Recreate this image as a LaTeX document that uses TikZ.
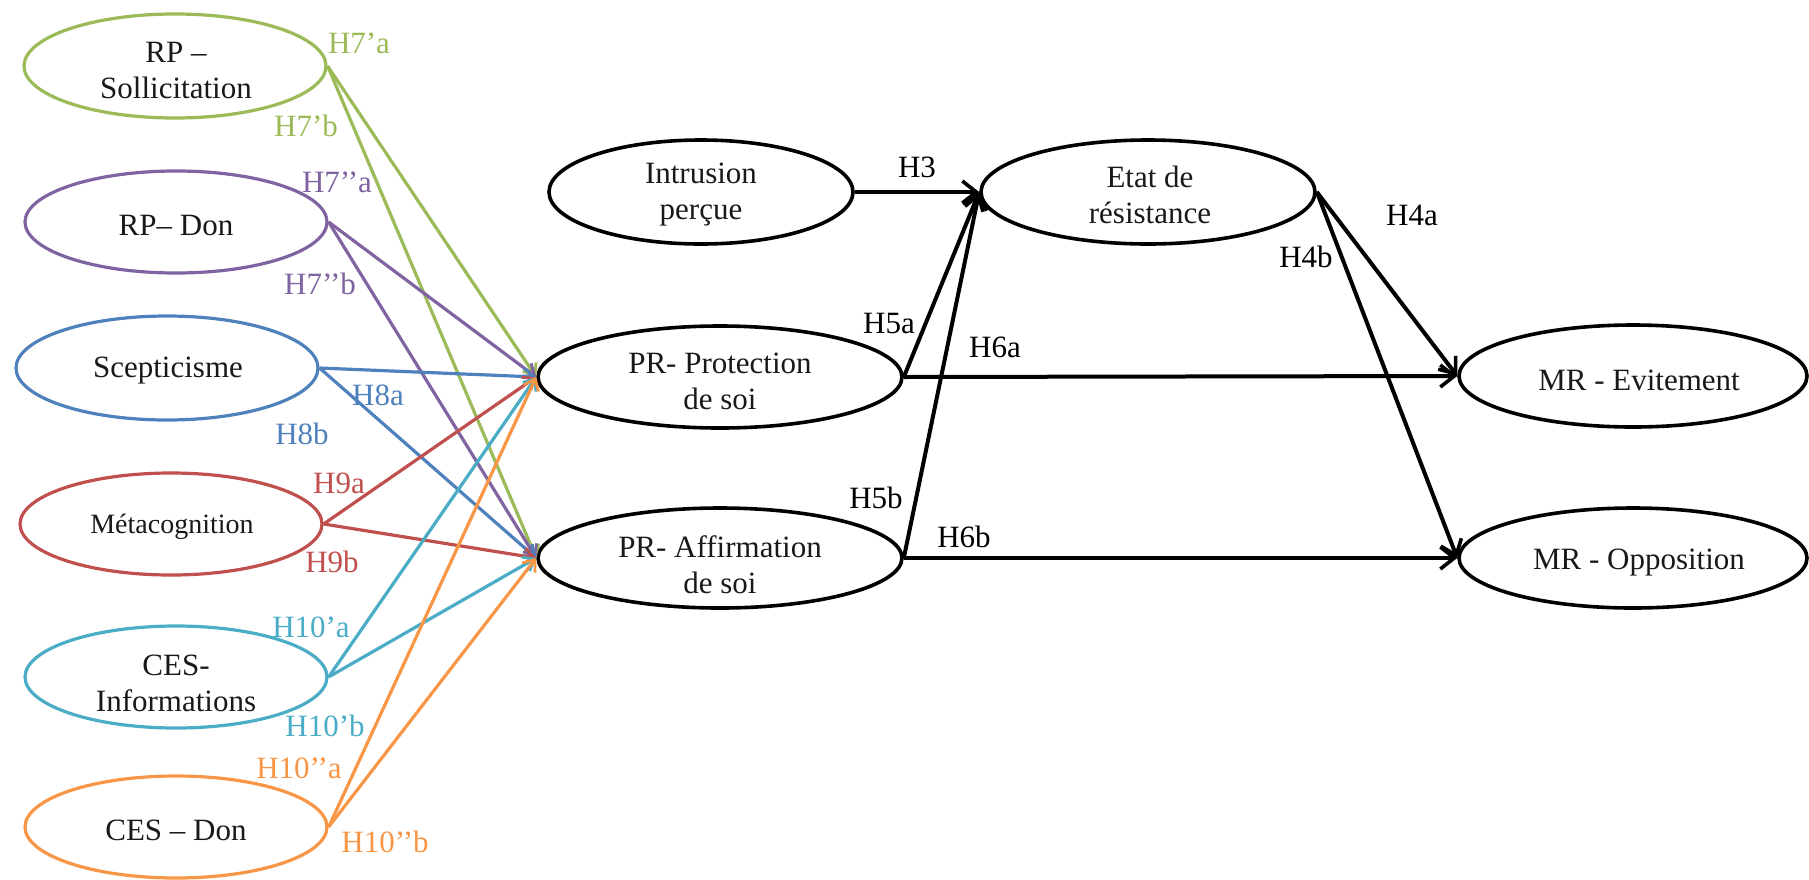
\documentclass[tikz,border=0pt]{standalone}
\usepackage{fontspec}
\setmainfont{Liberation Serif}
\usetikzlibrary{shapes.geometric,arrows.meta}
\definecolor{cgreen}{HTML}{9BBB59}
\definecolor{cpurple}{HTML}{8064A2}
\definecolor{cblue}{HTML}{4F81BD}
\definecolor{cred}{HTML}{C0504D}
\definecolor{ccyan}{HTML}{4BACC6}
\definecolor{corange}{HTML}{F79646}
\begin{document}
\begin{tikzpicture}[x=0.5pt,y=-0.5pt,
  ell/.style={draw, ellipse, inner sep=0pt, line width=1.6pt},
  blk/.style={ell, line width=1.8pt},
  txt/.style={align=center, font=\fontsize{15.5}{18}\selectfont, inner sep=0pt, text=black!90},
  hyp/.style={font=\fontsize{15.5}{18}\selectfont, inner sep=0pt},
  carr/.style={line width=1.6pt, -{Straight Barb[length=5pt,width=8pt,line width=1.4pt]}},
  barr/.style={line width=2pt, -{Straight Barb[length=7pt,width=11pt,line width=1.8pt]}},
]
\useasboundingbox (0,0) rectangle (1809,879);

% left column
\node[ell, draw=cgreen,  minimum width=151pt, minimum height=52pt] (rps) at (175,66) {};
\node[ell, draw=cpurple, minimum width=151pt, minimum height=51pt] (rpd) at (176,222) {};
\node[ell, draw=cblue,   minimum width=151pt, minimum height=52pt] (sce) at (167,368) {};
\node[ell, draw=cred,    minimum width=151pt, minimum height=51pt] (met) at (171,524) {};
\node[ell, draw=ccyan,   minimum width=151pt, minimum height=51pt] (cei) at (176,677) {};
\node[ell, draw=corange, minimum width=151pt, minimum height=51pt] (ced) at (176,827) {};

\node[txt] (trps) at (176,70) {RP –\\Sollicitation};
\node[txt] (trpd) at (176,225) {RP– Don};
\node[txt] (tsce) at (168,371) {Scepticisme};
\node[txt, font=\fontsize{14}{16}\selectfont] (tmet) at (172,527) {Métacognition};
\node[txt] (tcei) at (176,683) {CES-\\Informations};
\node[txt] (tced) at (176,830) {CES – Don};

% middle and right
\node[blk, minimum width=152pt, minimum height=52pt] (intr) at (701,192) {};
\node[blk, minimum width=167pt, minimum height=52pt] (etat) at (1148,192) {};
\node[blk, minimum width=182pt, minimum height=51pt] (prp) at (720,377) {};
\node[blk, minimum width=182pt, minimum height=50pt] (pra) at (720,558) {};
\node[blk, minimum width=174pt, minimum height=51pt] (mre) at (1633,376) {};
\node[blk, minimum width=174pt, minimum height=50pt] (mro) at (1633,558) {};

\node[txt] (tintr) at (701,195) {Intrusion\\perçue};
\node[txt] (tetat) at (1150,195) {Etat de\\résistance};
\node[txt] (tprp) at (720,381) {PR- Protection\\de soi};
\node[txt] (tpra) at (720,565) {PR- Affirmation\\de soi};
\node[txt] (tmre) at (1639,380) {MR - Evitement};
\node[txt] (tmro) at (1639,563) {MR - Opposition};

% coloured arrows
\draw[carr, cgreen]  (rps.east) -- (prp.west);
\draw[carr, cgreen]  (rps.east) -- (pra.west);
\draw[carr, cpurple] (rpd.east) -- (prp.west);
\draw[carr, cpurple] (rpd.east) -- (pra.west);
\draw[carr, cblue]   (sce.east) -- (prp.west);
\draw[carr, cblue]   (sce.east) -- (pra.west);
\draw[carr, cred]    (met.east) -- (prp.west);
\draw[carr, cred]    (met.east) -- (pra.west);
\draw[carr, ccyan]   (cei.east) -- (prp.west);
\draw[carr, ccyan]   (cei.east) -- (pra.west);
\draw[carr, corange] (ced.east) -- (prp.west);
\draw[carr, corange] (ced.east) -- (pra.west);

% black arrows
\draw[barr] (intr.east) -- (etat.west);
\draw[barr] (prp.east) -- (etat.west);
\draw[barr] (pra.east) -- (etat.west);
\draw[barr] (prp.east) -- (mre.west);
\draw[barr] (pra.east) -- (mro.west);
\draw[barr] (etat.east) -- (mre.west);
\draw[barr] (etat.east) -- (mro.west);

% hypothesis labels
\node[hyp, cgreen]  (h7a)  at (359,43)  {H7’a};
\node[hyp, cgreen]  (h7b)  at (306,126) {H7’b};
\node[hyp, cpurple] (h7pa) at (337,182) {H7’’a};
\node[hyp, cpurple] (h7pb) at (320,284) {H7’’b};
\node[hyp, cblue]   (h8a)  at (378,395) {H8a};
\node[hyp, cblue]   (h8b)  at (302,434) {H8b};
\node[hyp, cred]    (h9a)  at (339,483) {H9a};
\node[hyp, cred]    (h9b)  at (332,562) {H9b};
\node[hyp, ccyan]   (h10a) at (311,627) {H10’a};
\node[hyp, ccyan]   (h10b) at (325,726) {H10’b};
\node[hyp, corange] (h10pa) at (299,768) {H10’’a};
\node[hyp, corange] (h10pb) at (385,842) {H10’’b};
\node[hyp] (h3)  at (917,167)  {H3};
\node[hyp] (h5a) at (889,323)  {H5a};
\node[hyp] (h6a) at (995,347)  {H6a};
\node[hyp] (h5b) at (876,498)  {H5b};
\node[hyp] (h6b) at (964,537)  {H6b};
\node[hyp] (h4a) at (1412,215) {H4a};
\node[hyp] (h4b) at (1306,257) {H4b};
\end{tikzpicture}
\end{document}
